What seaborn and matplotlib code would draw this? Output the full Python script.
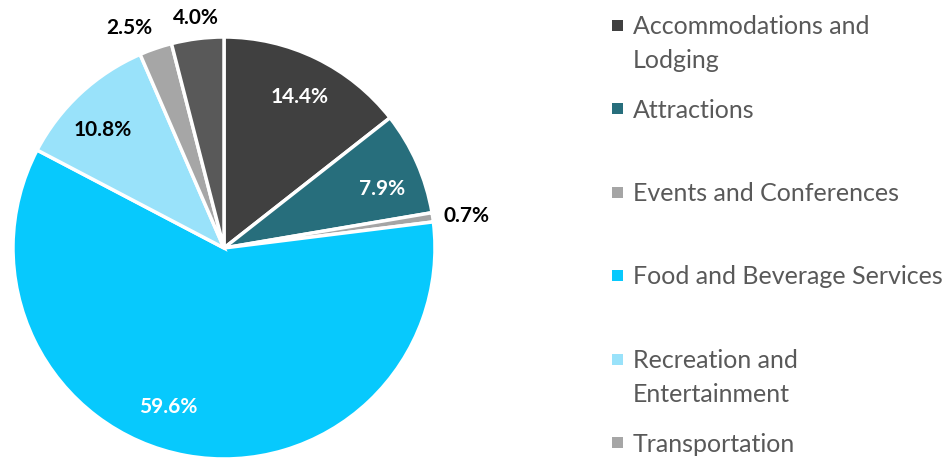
import numpy as np
import matplotlib
import seaborn as sns
import matplotlib.pyplot as plt
from matplotlib.patches import Rectangle

matplotlib.use('Agg')

categories = ["Accommodations and\nLodging", "Attractions", "Events and Conferences",
              "Food and Beverage Services", "Recreation and\nEntertainment",
              "Transportation", "Other"]
shares = [14.4, 7.9, 0.7, 59.6, 10.8, 2.5, 4.0]
colors = ["#404040", "#276e7c", "#a5a5a5", "#07c9fd", "#99e2fa", "#a6a6a6", "#595959"]
label_colors = ["white", "white", "black", "white", "black", "black", "black"]
inside = [True, True, False, True, True, False, False]
label_nudge = [-0.6, -3.5, 0, -9, 2.9, 0, 0]  # degrees, to follow the original label spots

sns.set_theme(style="white")
plt.rcParams['font.family'] = ['Lato', 'DejaVu Sans']

W, H = 951, 459
fig = plt.figure(figsize=(W / 100, H / 100), dpi=100)

cx, cy, r = 224, 248, 211
ax = fig.add_axes([(cx - r) / W, (H - cy - r) / H, 2 * r / W, 2 * r / H])
wedges, _ = ax.pie(shares, colors=colors, startangle=90, counterclock=False,
                   wedgeprops=dict(edgecolor="white", linewidth=2.5))
ax.set_xlim(-1, 1)
ax.set_ylim(-1, 1)
ax.set_axis_off()

for w, val, col, ins, nud in zip(wedges, shares, label_colors, inside, label_nudge):
    ang = np.deg2rad((w.theta1 + w.theta2) / 2 + nud)
    c, s = np.cos(ang), np.sin(ang)
    if ins:
        ax.text(0.80 * c, 0.80 * s, f"{val:.1f}%", ha="center", va="center",
                color=col, fontsize=15, fontweight="bold")
    else:
        ha = "center" if abs(c) < 0.3 else ("left" if c > 0 else "right")
        va = "center" if abs(s) < 0.3 else ("bottom" if s > 0 else "top")
        ax.text(1.05 * c, 1.05 * s, f"{val:.1f}%", ha=ha, va=va,
                color=col, fontsize=15, fontweight="bold")

# legend by hand, the original spaces entries evenly
# (the 7th entry falls below the visible area, so it is left out)
y0, pitch, line_h = 25, 83.5, 34
for i, (name, col) in enumerate(zip(categories[:6], colors[:6])):
    y = y0 + i * pitch
    fig.patches.append(Rectangle((612 / W, 1 - (y + 5.5) / H), 11 / W, 11 / H,
                                 transform=fig.transFigure, facecolor=col, edgecolor="none"))
    for k, line in enumerate(name.split("\n")):
        fig.text(633 / W, 1 - (y + 9 + k * line_h) / H, line, ha="left", va="baseline",
                 fontsize=18, color="#595959")

fig.savefig("out.png", dpi=100)
